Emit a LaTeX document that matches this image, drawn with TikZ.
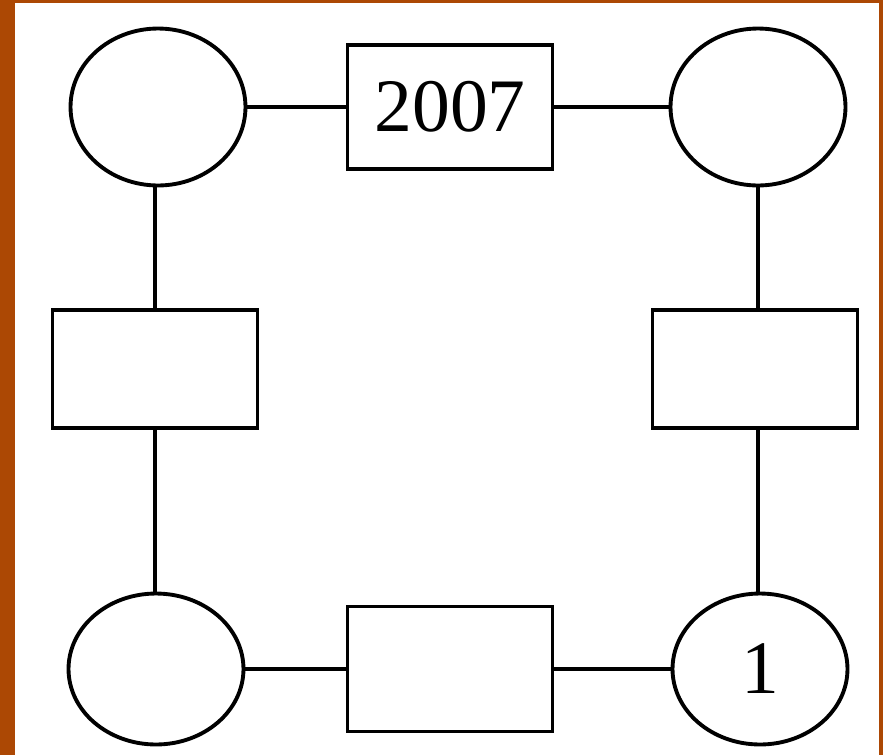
\documentclass[tikz,border=0pt]{standalone}
\usepackage{fontspec}
\setmainfont{Liberation Serif}
\usetikzlibrary{shapes.geometric}
\definecolor{frame}{RGB}{172,72,4}
\tikzset{
    blank/.style={ellipse, draw, line width=2.2pt, inner sep=0pt, minimum width=3.5cm, minimum height=3.14cm},
    slot/.style={rectangle, draw, line width=2.2pt, inner sep=0pt, minimum width=4.1cm, minimum height=2.4cm},
    link/.style={line width=2.2pt}
}
\begin{document}
\begin{tikzpicture}[x=0.02cm, y=-0.02cm]
    \fill[frame] (0,0) rectangle (883,755);
    \fill[white] (15,3) rectangle (879,755);
    \useasboundingbox (0,0) rectangle (883,755);

    \node[blank] (tl) at (158,107) {};
    \node[slot, minimum height=2.48cm] (top) at (450,107) {\fontsize{43}{43}\selectfont 2007};
    \node[blank] (tr) at (758,107) {};
    \node[slot, minimum height=2.36cm] (left) at (155,369) {};
    \node[slot, minimum height=2.36cm] (right) at (755,369) {};
    \node[blank, minimum height=3.02cm] (bl) at (156,669) {};
    \node[slot, minimum height=2.5cm] (bottom) at (450,669) {};
    \node[blank, minimum height=3.02cm] (br) at (760,669) {\fontsize{43}{43}\selectfont 1};

    \draw[link] (tl.east) -- (top.west);
    \draw[link] (top.east) -- (tr.west);
    \draw[link] (tl.south -| left.north) -- (left.north);
    \draw[link] (left.south) -- (bl.north -| left.south);
    \draw[link] (tr.south) -- (right.north -| tr.south);
    \draw[link] (right.south -| tr.south) -- (br.north -| tr.south);
    \draw[link] (bl.east) -- (bottom.west);
    \draw[link] (bottom.east) -- (br.west);
\end{tikzpicture}
\end{document}
